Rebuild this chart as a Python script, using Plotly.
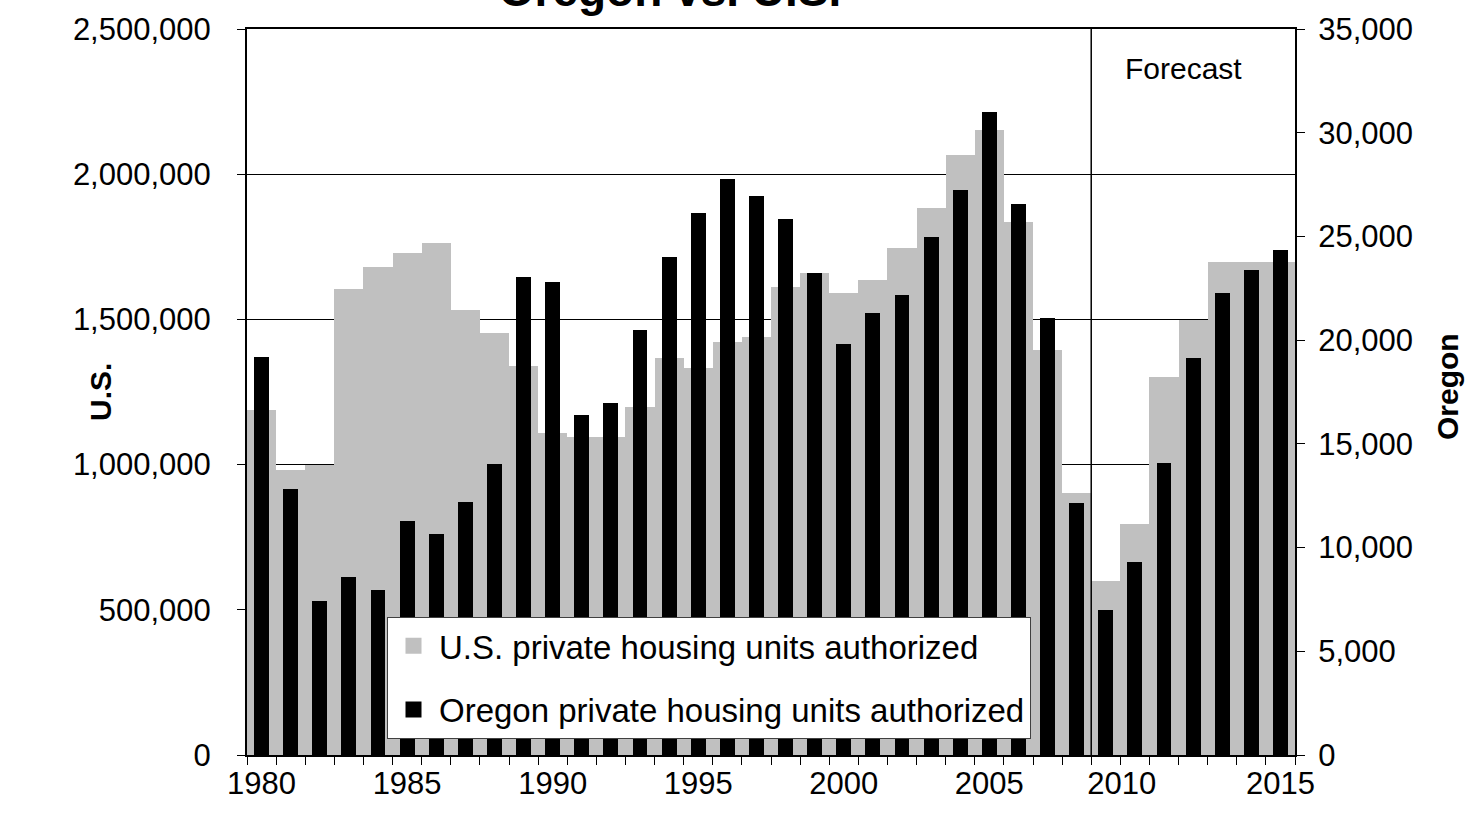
import plotly.graph_objects as go

years = list(range(1980, 2016))
us_units = [1187000, 981000, 1000000, 1604000, 1680000, 1730000, 1764000, 1533000, 1454000, 1338000,
            1108000, 1095000, 1095000, 1197000, 1368000, 1331000, 1423000, 1439000, 1611000, 1659000,
            1590000, 1635000, 1745000, 1884000, 2065000, 2151000, 1837000, 1395000, 902000, 598000,
            797000, 1300000, 1499000, 1696000, 1696000, 1696000]
oregon_units = [19190, 12840, 7420, 8560, 7940, 11260, 10640, 12210, 14020, 23040,
                22790, 16370, 16950, 20500, 24030, 26150, 27770, 26960, 25820, 23220,
                19820, 21310, 22160, 24950, 27250, 30990, 26570, 21060, 12150, 6980,
                9290, 14080, 19150, 22270, 23370, 24370]
label_text = ["1980", "1985", "1990", "1995", "2000", "2005", "2010", "2015"]
label_pos = [1980, 1985, 1990, 1995, 2000, 2005, 2009.55, 2015]
forecast_start = 2008.5

FONT = "Arial, Liberation Sans, sans-serif"

fig = go.Figure()
fig.add_trace(go.Bar(x=years, y=us_units, width=1.0, marker=dict(color="#C0C0C0", line=dict(width=0)),
                     yaxis="y", showlegend=False, hoverinfo="x+y"))
fig.add_trace(go.Bar(x=years, y=oregon_units, width=0.51, marker=dict(color="#000000", line=dict(width=0)),
                     yaxis="y2", showlegend=False, hoverinfo="x+y"))
# legend entries
fig.add_trace(go.Scatter(x=[None], y=[None], mode="markers", name="U.S. private housing units authorized",
                         marker=dict(symbol="square", size=16, color="#C0C0C0"), legendgroup="a"))
fig.add_trace(go.Scatter(x=[None], y=[None], mode="markers", name="Oregon private housing units authorized",
                         marker=dict(symbol="square", size=16, color="#000000"), legendgroup="b"))

fig.update_layout(
    width=1466, height=814,
    margin=dict(l=247, r=171, t=25, b=59),
    paper_bgcolor="white", plot_bgcolor="white",
    barmode="overlay", bargap=0,
    font=dict(family=FONT, size=31, color="black"),
    title=dict(text="<b>Oregon vs. U.S.</b>", x=670 / 1466, xanchor="center", y=1 - 6 / 814, yanchor="bottom",
               font=dict(family=FONT, size=46, color="black")),
    xaxis=dict(range=[1979.5, 2015.5], tickvals=label_pos, ticktext=label_text,
               ticks="", showline=True, linecolor="black", linewidth=2, mirror=True, showgrid=False,
               zeroline=False, ticklabelstandoff=0,
               minor=dict(ticks="outside", tick0=1979.5, dtick=1, ticklen=8, tickcolor="black", tickwidth=1,
                          showgrid=False)),
    yaxis=dict(range=[0, 2500000], dtick=500000, tickformat=",d", ticks="outside", ticklen=8,
               tickcolor="black", showline=True, linecolor="black", linewidth=2, showgrid=True,
               gridcolor="black", gridwidth=1, zeroline=False, ticklabelstandoff=20),
    yaxis2=dict(range=[0, 35000], dtick=5000, tickformat=",d", ticks="outside", ticklen=8,
                tickcolor="black", overlaying="y", side="right", showline=True, linecolor="black",
                linewidth=2, showgrid=False, zeroline=False, ticklabelstandoff=7),
    legend=dict(x=(387 - 247) / 1048, y=(755 - 616) / 730, xanchor="left", yanchor="top",
                bgcolor="white", bordercolor="#404040", borderwidth=1, itemwidth=41,
                font=dict(family=FONT, size=33, color="black"), tracegroupgap=18,
                itemclick=False),
    showlegend=True,
)

fig.add_shape(type="line", xref="x", yref="paper", x0=forecast_start, x1=forecast_start, y0=0, y1=1,
              line=dict(color="black", width=1.5), layer="above")
fig.add_annotation(xref="paper", yref="paper", x=(1183 - 247) / 1048, y=(755 - 65) / 730, text="Forecast",
                   xanchor="center", yanchor="middle",
                   showarrow=False, font=dict(family=FONT, size=30, color="black"))
fig.add_annotation(xref="paper", yref="paper", x=(100 - 247) / 1048, y=(755 - 390) / 730, text="<b>U.S.</b>",
                   xanchor="center", yanchor="middle",
                   showarrow=False, textangle=-90, font=dict(family=FONT, size=30, color="black"))
fig.add_annotation(xref="paper", yref="paper", x=(1447 - 247) / 1048, y=(755 - 385) / 730, text="<b>Oregon</b>",
                   xanchor="center", yanchor="middle",
                   showarrow=False, textangle=-90, font=dict(family=FONT, size=30, color="black"))

fig.write_html("out.html", config={"displayModeBar": False},
               post_script="document.body.style.margin='0';document.body.style.overflow='hidden';")
